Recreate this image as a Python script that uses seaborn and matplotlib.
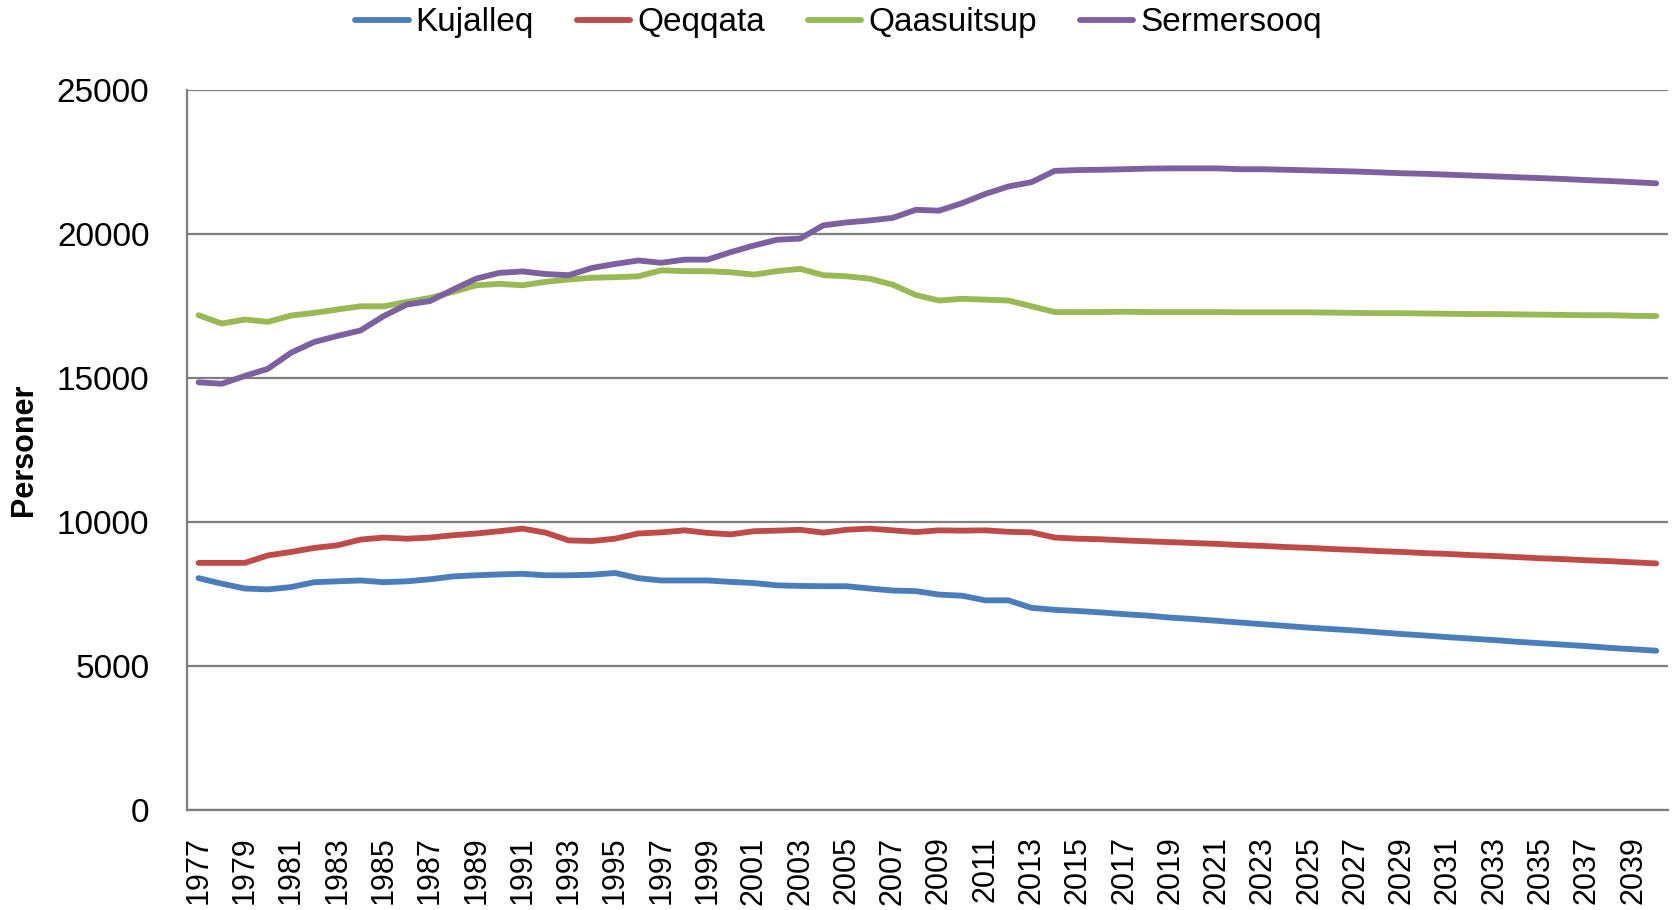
import numpy as np
import pandas as pd
import matplotlib
matplotlib.use("Agg")
import matplotlib.pyplot as plt
import seaborn as sns
from matplotlib.lines import Line2D

years = list(range(1977, 2041))

kujalleq = [8050, 7860, 7690, 7660, 7740, 7910, 7940, 7970, 7910, 7940,
            8010, 8110, 8150, 8180, 8200, 8150, 8150, 8170, 8230, 8050,
            7970, 7970, 7970, 7920, 7880, 7800, 7780, 7770, 7770, 7690,
            7620, 7600, 7480, 7440, 7280, 7280, 7020, 6950, 6910, 6860,
            6800, 6750, 6680, 6630, 6570, 6510, 6450, 6390, 6330, 6280,
            6230, 6170, 6110, 6060, 6000, 5950, 5900, 5840, 5790, 5740,
            5690, 5630, 5580, 5530]

qeqqata = [8580, 8580, 8580, 8840, 8960, 9100, 9190, 9390, 9460, 9420,
           9460, 9540, 9600, 9680, 9770, 9630, 9360, 9340, 9420, 9600,
           9640, 9710, 9620, 9570, 9680, 9700, 9730, 9630, 9730, 9770,
           9710, 9650, 9710, 9700, 9710, 9660, 9640, 9460, 9420, 9400,
           9360, 9330, 9300, 9270, 9240, 9200, 9170, 9130, 9100, 9060,
           9030, 8990, 8960, 8920, 8890, 8850, 8820, 8780, 8740, 8710,
           8670, 8640, 8600, 8560]

qaasuitsup = [17180, 16890, 17030, 16950, 17170, 17260, 17380, 17490, 17490, 17640,
              17780, 17990, 18220, 18270, 18220, 18340, 18420, 18480, 18500, 18530,
              18740, 18710, 18710, 18670, 18590, 18710, 18790, 18570, 18530, 18450,
              18240, 17880, 17690, 17750, 17720, 17690, 17490, 17290, 17290, 17290,
              17300, 17290, 17290, 17290, 17290, 17280, 17280, 17280, 17280, 17270,
              17260, 17250, 17250, 17240, 17230, 17220, 17220, 17210, 17200, 17190,
              17180, 17180, 17160, 17150]

sermersooq = [14850, 14800, 15070, 15320, 15880, 16250, 16460, 16650, 17150, 17550,
              17670, 18070, 18450, 18650, 18700, 18610, 18570, 18820, 18960, 19080,
              19000, 19110, 19110, 19370, 19600, 19800, 19840, 20300, 20400, 20470,
              20560, 20840, 20810, 21070, 21390, 21650, 21800, 22190, 22220, 22230,
              22250, 22270, 22280, 22280, 22280, 22250, 22250, 22230, 22210, 22190,
              22170, 22140, 22110, 22090, 22060, 22030, 22000, 21970, 21940, 21910,
              21870, 21840, 21800, 21760]

regions = ["Kujalleq", "Qeqqata", "Qaasuitsup", "Sermersooq"]
colors = ["#4A7EBB", "#BE4B48", "#98B954", "#7D60A0"]

df = pd.DataFrame({"Kujalleq": kujalleq, "Qeqqata": qeqqata,
                   "Qaasuitsup": qaasuitsup, "Sermersooq": sermersooq}, index=years)
long = df.reset_index(names="year").melt(id_vars="year", var_name="region", value_name="value")

sns.set_style("white")
plt.rcParams["font.family"] = ["Liberation Sans", "DejaVu Sans"]
plt.rcParams["text.color"] = "black"
plt.rcParams["xtick.color"] = "black"
plt.rcParams["ytick.color"] = "black"
plt.rcParams["axes.labelcolor"] = "black"

fig = plt.figure(figsize=(16.77, 9.10), dpi=100)
ax = fig.add_axes([0.1115, 0.1099, 0.883, 0.7912])

lw = 4.2
sns.lineplot(data=long, x="year", y="value", hue="region", hue_order=regions,
             palette=colors, linewidth=lw, ax=ax, legend=False,
             solid_capstyle="round")

ax.set_xlim(1976.5, 2040.5)
ax.set_ylim(0, 25000)
ax.set_yticks(range(0, 25001, 5000))
ax.grid(axis="y", color="#7f7f7f", linewidth=1.6)
ax.set_axisbelow(True)

for s in ["top", "right"]:
    ax.spines[s].set_visible(False)
for s in ["left", "bottom"]:
    ax.spines[s].set_color("#7f7f7f")
    ax.spines[s].set_linewidth(1.6)

ax.set_xticks(years[::2])
ax.set_xticklabels([str(y) for y in years[::2]], rotation=90, fontsize=22)
ax.set_xticks(np.arange(1976.5, 2041, 1), minor=True)
ax.tick_params(axis="x", which="major", length=0, pad=19)
ax.tick_params(axis="x", which="minor", length=8, width=1.3, color="#7f7f7f", direction="out")
ax.tick_params(axis="y", labelsize=24, length=7, width=1.3, color="#7f7f7f", direction="out", pad=20)

ax.set_xlabel("")
ax.set_ylabel("Personer", fontsize=22, fontweight="bold")
ax.yaxis.set_label_coords(-0.1, 0.5)

handles = [Line2D([], [], color=c, linewidth=lw) for c in colors]
fig.legend(handles, regions, loc="upper center", bbox_to_anchor=(0.5, 1.025), ncol=4,
           frameon=False, fontsize=24, handlelength=1.6, handletextpad=0.2,
           columnspacing=1.3)

fig.savefig("out.png", dpi=100)
